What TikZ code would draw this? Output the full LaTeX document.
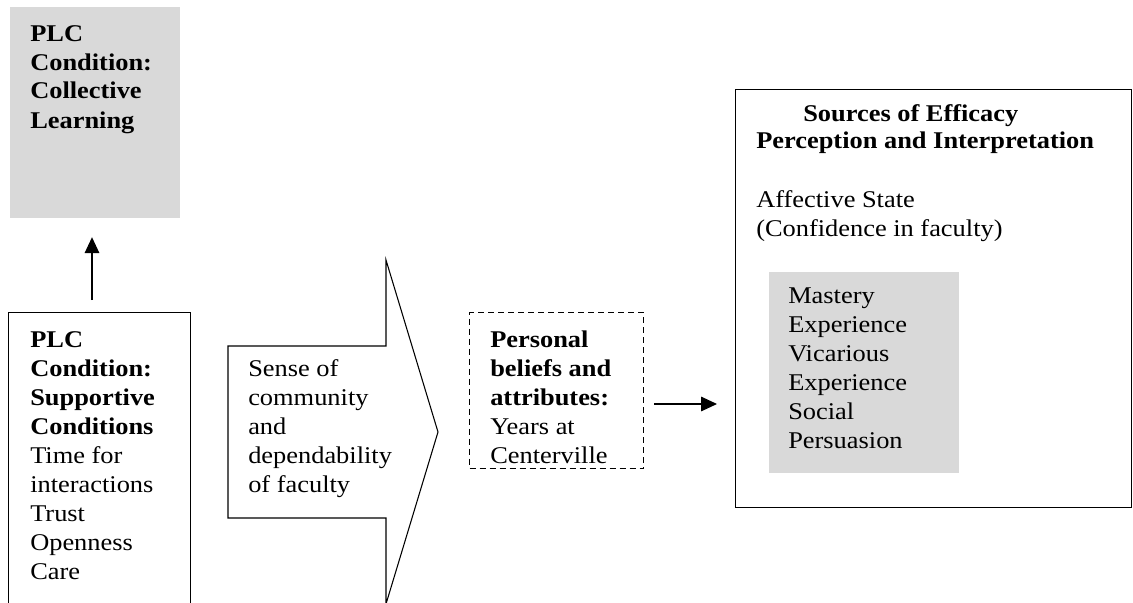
\documentclass[tikz,border=0pt]{standalone}
\usepackage{fontspec}
\setmainfont[FakeStretch=1.1]{Liberation Serif}
\usetikzlibrary{arrows.meta,calc}
\definecolor{boxgray}{HTML}{D9D9D9}
\newcommand{\txtlines}[1]{\begin{tabular}[t]{@{}l@{}}#1\end{tabular}}
\tikzset{
  txt/.style={anchor=base west, inner sep=0pt, font=\fontsize{18pt}{21.75pt}\selectfont},
  frame/.style={draw=black, line width=0.8pt},
  graybox/.style={fill=boxgray, draw=none},
  arr/.style={line width=0.8pt, -{Triangle[length=12pt,width=11pt]}},
}
\begin{document}
\begin{tikzpicture}[x=0.75pt,y=-0.75pt]
\useasboundingbox (0,0) rectangle (1133,603);
\clip (0,0) rectangle (1133,603);
% top gray box
\node[graybox, anchor=north west, minimum width=170*0.75pt, minimum height=211*0.75pt, inner sep=0pt] (clb) at (10,7) {};
\node[txt] (clbt) at (30,41) {\txtlines{\textbf{PLC}\\\textbf{Condition:}\\\textbf{Collective}\\\textbf{Learning}}};
% supportive conditions box
\node[frame, anchor=north west, minimum width=182*0.75pt, minimum height=300*0.75pt, inner sep=0pt] (sup) at (8,312) {};
\node[txt] (supt) at (30,347) {\txtlines{\textbf{PLC}\\\textbf{Condition:}\\\textbf{Supportive}\\\textbf{Conditions}\\Time for\\interactions\\Trust\\Openness\\Care}};
% up arrow
\coordinate (upx) at (92,0);
\draw[arr, shorten <=9pt, shorten >=14pt] (sup.north -| upx) -- (clb.south -| upx);
% big block arrow
\draw[frame, line join=miter] (228,346) -- (386,346) -- (386,260) -- (438,432) -- (386,604) -- (386,518) -- (228,518) -- cycle;
\node[txt] (sense) at (248,376) {\txtlines{Sense of\\community\\and\\dependability\\of faculty}};
% dashed box
\node[frame, dash pattern=on 4.5pt off 3pt, anchor=north west, minimum width=174*0.75pt, minimum height=156*0.75pt, inner sep=0pt] (pers) at (469,312) {};
\node[txt] (perst) at (490,347) {\txtlines{\textbf{Personal}\\\textbf{beliefs and}\\\textbf{attributes:}\\Years at\\Centerville}};
% right box
\node[frame, line width=1.1pt, anchor=north west, minimum width=396*0.75pt, minimum height=418*0.75pt, inner sep=0pt] (src) at (735,89) {};
\node[txt] (srct1) at (803,121) {\textbf{Sources of Efficacy}};
\node[txt] (srct2) at (756,148) {\textbf{Perception and Interpretation}};
\node[txt] (aff) at (756,207) {\txtlines{Affective State\\(Confidence in faculty)}};
\node[graybox, anchor=north west, minimum width=190*0.75pt, minimum height=201*0.75pt, inner sep=0pt] (mast) at (769,272) {};
\node[txt] (mastt) at (788,303) {\txtlines{Mastery\\Experience\\Vicarious\\Experience\\Social\\Persuasion}};
% right arrow
\coordinate (ry) at (0,404);
\draw[arr, shorten <=7.5pt, shorten >=13.5pt] (pers.east |- ry) -- (src.west |- ry);
\end{tikzpicture}
\end{document}
